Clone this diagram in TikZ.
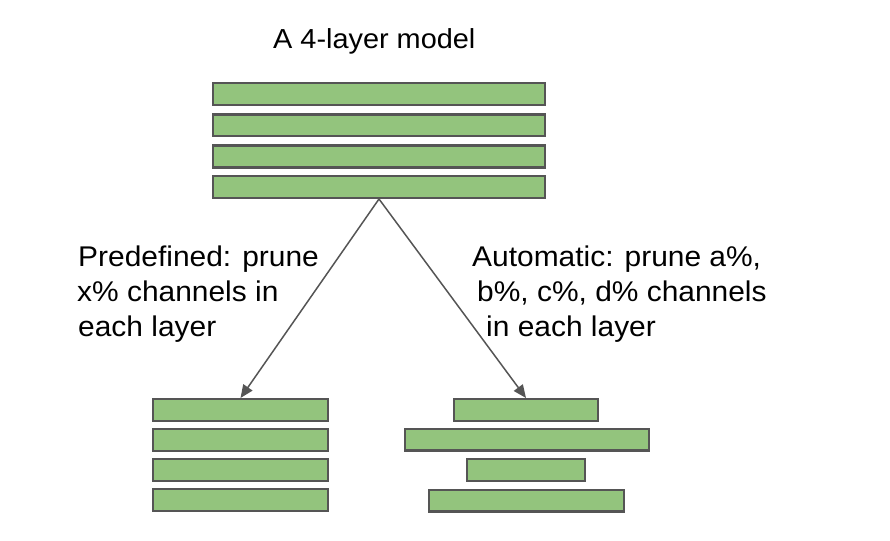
\documentclass[tikz,border=0pt]{standalone}
\usepackage{fontspec}
\setmainfont{Liberation Sans}[FakeStretch=1.05]
\usetikzlibrary{arrows.meta}
\definecolor{barfill}{HTML}{93C47D}
\definecolor{bardraw}{HTML}{555555}
\definecolor{arrowc}{HTML}{555555}
\tikzset{
  bar/.style={draw=bardraw, fill=barfill, line width=2.3pt, rectangle, inner sep=0pt, minimum height=21.7pt},
  lbl/.style={anchor=base west, inner sep=0pt, font=\fontsize{28.5}{35}\selectfont},
  ttl/.style={anchor=base west, inner sep=0pt, font=\fontsize{27.5}{33}\selectfont},
  conn/.style={draw=arrowc, line width=1.5pt, -{Triangle[length=13pt,width=11pt]}}
}
\begin{document}
\begin{tikzpicture}[x=1pt,y=-1pt]
\useasboundingbox (0,0) rectangle (890,540);
% title
\node[ttl] (title) at (273,48.5) {A 4-layer model};
% top stack
\node[bar, minimum width=331.7pt] (t1) at (379,94) {};
\node[bar, minimum width=331.7pt] (t2) at (379,125.5) {};
\node[bar, minimum width=331.7pt] (t3) at (379,156.5) {};
\node[bar, minimum width=331.7pt] (t4) at (379,187) {};
% bottom left stack
\node[bar, minimum width=174.7pt] (b1) at (240.5,410) {};
\node[bar, minimum width=174.7pt] (b2) at (240.5,440) {};
\node[bar, minimum width=174.7pt] (b3) at (240.5,470) {};
\node[bar, minimum width=174.7pt] (b4) at (240.5,500) {};
% bottom right stack
\node[bar, minimum width=143.7pt] (r1) at (526,410) {};
\node[bar, minimum width=243.7pt] (r2) at (527,439.5) {};
\node[bar, minimum width=117.7pt] (r3) at (526,470) {};
\node[bar, minimum width=194.7pt] (r4) at (526.5,500.5) {};
% labels
\node[lbl] (la) at (78,266) {Predefined: prune};
\node[lbl] (lb) at (77,301) {x\% channels in};
\node[lbl] (lc) at (78,336) {each layer};
\node[lbl] (ra) at (472,266) {Automatic: prune a\%,};
\node[lbl] (rb) at (477,301) {b\%, c\%, d\% channels};
\node[lbl] (rc) at (486,336) {in each layer};
% arrows
\draw[conn] (t4.south) -- (b1.north);
\draw[conn] (t4.south) -- (r1.north);
\end{tikzpicture}
\end{document}
